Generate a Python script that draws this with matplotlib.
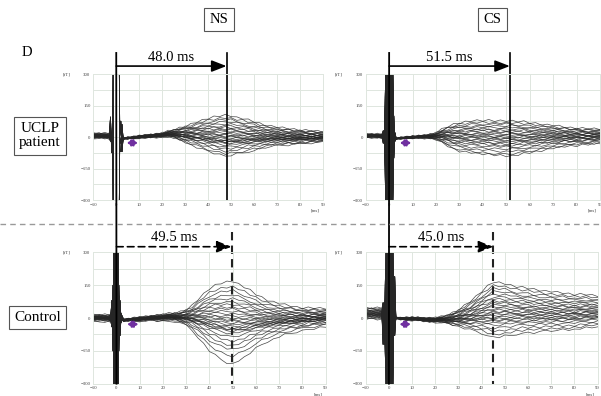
import numpy as np
import matplotlib.pyplot as plt
from matplotlib.lines import Line2D

plt.rcParams['font.family'] = ['Liberation Serif', 'DejaVu Serif']

# column / row labels and peak latencies (ms)
col_titles = ['NS', 'CS']
row_labels = ['UCLP\npatient', 'Control']
latency = [[48.0, 51.5], [49.5, 45.0]]

# sample times (ms) outside the stimulus artifact
t_grid = [-10, -7.5, -5, -3, 3, 5, 7.5, 10, 12.5, 15, 17.5, 20, 22.5, 25, 27.5, 30, 32.5, 35,
          37.5, 40, 42.5, 45, 47.5, 50, 52.5, 55, 57.5, 60, 62.5, 65, 67.5, 70, 72.5, 75,
          77.5, 80, 82.5, 85, 87.5, 90]
# artifact sample times (ms)
art_t = [-2.5, -2, -1.5, -1, -0.5, 0, 0.5, 1, 1.5, 2, 2.5]

# channel-to-channel wiggle (fT), one row per channel group
ripple = [
    [4, -3, 5, -2, 2, -4, 3, -2, 4, -5, 2, -3, 5, -4, 3, -6, 4, -2, 5, -3, 6, -4, 3, -5, 2, -4, 6, -3, 4, -5, 3, -2, 5, -4, 2, -6, 4, -3, 5, -2],
    [-5, 3, -2, 4, -3, 2, -4, 5, -2, 3, -5, 4, -3, 2, -6, 5, -3, 4, -2, 6, -4, 3, -5, 2, -4, 5, -3, 6, -2, 4, -5, 3, -4, 2, -6, 3, -5, 4, -2, 3],
    [2, 6, -4, 1, 0, 3, -2, -4, 5, -1, 3, -5, -2, 6, -3, 1, -5, 4, 2, -4, -1, 5, -3, 6, -2, -5, 1, 4, -6, 2, 5, -3, -1, 6, -4, 1, -2, 5, -3, 0],
    [-3, -1, 4, -5, 1, -2, 5, 1, -4, 2, -6, 0, 4, -3, 5, -2, 1, -6, 3, 2, -5, 4, -1, -3, 6, 1, -4, -2, 5, -3, 0, 6, -2, -5, 3, 4, -1, -4, 2, 6],
    [6, -2, -4, 3, -1, 4, 0, -3, 2, 5, -4, 1, -2, -5, 2, 6, -1, -3, 4, -2, 5, 0, -6, 3, -1, 4, -3, 5, 1, -4, 2, -2, 6, -1, -5, 3, 0, -3, 4, -1],
    [-1, 4, 2, -6, 2, -1, -3, 6, -1, -3, 4, -2, 6, 1, -4, -3, 5, 2, -5, 4, -3, -6, 2, 1, -5, 3, 5, -1, -3, 6, -2, 4, -5, 1, 3, -2, 5, 1, -6, 3],
]

# --- NS, UCLP patient ---
ns_pat_center = [5, 5, 5, 5, -8, -5, -3, 0, 2, 5, 8, 10, 13, 15, 14, 12, 11, 10, 9, 8, 7, 6, 5, 5,
                 4, 4, 3, 3, 2, 2, 2, 2, 1, 1, 1, 0, 0, 0, 0, 0]
ns_pat_shape = [.12, .12, .12, .12, .03, .03, .04, .05, .06, .07, .08, .1, .14, .2, .3, .4, .5, .6,
                .7, .8, .87, .95, 1, .97, .9, .85, .77, .7, .62, .55, .5, .45, .42, .4, .37, .35,
                .32, .3, .27, .25]
ns_pat_peaks = [100, 88, 78, 68, 58, 50, 42, 35, 28, 22, 16, 10, 5, 0, -6, -12, -17, -21, -24,
                -27, -30, -35, -42, -50, -60, -72, -85, -95]
ns_pat_art = [[95, -75, 0, 900, 900, 900, 900, 900, 0, 75, -70],
              [60, -50, 80, -900, -900, -900, -900, -900, -60, -70, 60],
              [30, -30, -60, 900, 900, 900, 900, 900, 80, 40, -40],
              [-20, 20, 0, -900, -900, -900, -900, -900, 0, -30, 30]]

# --- CS, UCLP patient ---
cs_pat_center = [5, 5, 5, 5, -8, -5, -3, -2, 0, 2, 4, 5, 5, 5, 4, 3, 2, 2, 1, 0, -1, -2, -2, -3,
                 -3, -3, -2, -2, -1, 0, 1, 2, 2, 3, 3, 3, 3, 3, 4, 4]
cs_pat_shape = [.1, .1, .1, .1, .03, .03, .04, .05, .06, .08, .12, .2, .38, .55, .7, .8, .85, .9,
                .93, .95, .96, .97, .98, 1, .99, .95, .9, .85, .8, .75, .7, .65, .6, .55, .52, .5,
                .47, .45, .42, .4]
cs_pat_peaks = [82, 72, 64, 56, 48, 41, 35, 29, 23, 17, 12, 7, 2, -3, -8, -13, -18, -24,
                -30, -37, -45, -55, -66, -78, -86]
cs_pat_art = [[30, -20, 300, -600, 600, -600, 600, -600, 400, -100, 20],
              [-30, 20, -300, 600, -600, 600, -600, 600, -400, 100, -20],
              [20, -10, 200, -500, 500, -500, 500, -500, 300, -50, 10],
              [-10, 30, -200, 500, -500, 500, -500, 500, -300, 50, -10]]

# --- NS, control ---
ns_con_center = [0, 0, 0, 0, -10, -8, -6, -5, -3, 0, 2, 3, 4, 5, 4, 3, 2, 0, -2, -5, -7, -10, -13,
                 -15, -15, -15, -13, -12, -11, -10, -9, -8, -6, -5, -4, -3, -1, 0, 1, 2]
ns_con_shape = [.08, .08, .08, .08, .03, .03, .04, .05, .05, .06, .07, .08, .09, .1, .14, .2, .3,
                .45, .6, .75, .84, .92, .97, 1, .93, .85, .75, .65, .57, .5, .45, .4, .36, .33,
                .3, .28, .26, .25, .23, .22]
ns_con_peaks = [185, 160, 140, 120, 105, 90, 78, 65, 55, 45, 35, 25, 15, 8, 0, -8, -15, -22,
                -30, -35, -40, -45, -55, -70, -90, -110, -130, -160, -195]
ns_con_art = [[10, 40, -150, 600, -600, 600, -600, 100, -50, 20, -10],
              [-10, -40, 150, -600, 600, -600, 600, -100, 50, -20, 10],
              [5, 80, -100, 400, -400, 400, -400, 150, -80, 10, 0],
              [0, -30, 100, -400, 400, -400, 400, -150, 80, -10, 0]]

# --- CS, control ---
cs_con_center = [15, 15, 15, 15, 0, -3, -4, -5, -6, -8, -9, -10, -10, -10, -9, -8, -5, -3, 1, 5,
                 8, 10, 11, 12, 12, 12, 12, 12, 12, 12, 12, 12, 12, 12, 12, 12, 13, 15, 15, 15]
cs_con_shape = [.2, .2, .2, .2, .03, .03, .04, .05, .05, .06, .07, .08, .1, .15, .22, .3, .4, .5,
                .62, .75, .88, 1, .98, .95, .9, .85, .82, .8, .77, .75, .72, .7, .68, .67, .65,
                .63, .62, .6, .57, .55]
cs_con_peaks = [155, 140, 125, 112, 100, 88, 78, 68, 58, 50, 42, 35, 28, 20, 14, 8, 2, -5,
                -12, -18, -25, -33, -42, -55, -70, -85, -100]
cs_con_art = [[-120, 70, -200, 600, -600, 600, -600, 600, -600, 190, -80],
              [70, -120, 200, -600, 600, -600, 600, -600, 600, -80, 190],
              [-60, 40, -100, 500, -500, 500, -500, 500, -500, 100, -40],
              [40, -60, 100, -500, 500, -500, 500, -500, 500, -40, 100]]

panels = [[(ns_pat_center, ns_pat_shape, ns_pat_peaks, ns_pat_art),
           (cs_pat_center, cs_pat_shape, cs_pat_peaks, cs_pat_art)],
          [(ns_con_center, ns_con_shape, ns_con_peaks, ns_con_art),
           (cs_con_center, cs_con_shape, cs_con_peaks, cs_con_art)]]

grid_col = '#dfe6df'

fig = plt.figure(figsize=(6.01, 3.96), dpi=100)
rects = [[[0.1552, 0.4949, 0.3822, 0.3182], [0.6085, 0.4949, 0.3899, 0.3182]],
         [[0.1552, 0.0311, 0.3867, 0.3313], [0.6085, 0.0311, 0.3860, 0.3313]]]


def draw_panel(ax, center, shape, peaks, art):
    t = np.array(t_grid, float)
    center = np.array(center, float)
    shape = np.array(shape, float)
    pre = t <= -3
    post = t >= 3
    for i, pk in enumerate(peaks):
        y = center + pk * shape + np.array(ripple[i % len(ripple)], float)
        row = art[i % len(art)]
        tt = np.concatenate([t[pre], art_t, t[post]])
        yy = np.concatenate([y[pre], row, y[post]])
        ax.plot(tt, yy, color='#262626', lw=0.5, alpha=0.85)
    ax.set_xlim(-10, 90)
    ax.set_ylim(-300, 300)
    ax.set_xticks(np.arange(-10, 91, 10))
    ax.set_yticks([-300, -150, 0, 150, 300])
    ax.set_yticks([-225, -75, 75, 225], minor=True)
    ax.grid(True, which='both', color=grid_col, lw=0.7)
    ax.set_axisbelow(True)
    ax.tick_params(which='both', length=0, labelsize=3.5, labelcolor='#444444', pad=2)
    for s in ax.spines.values():
        s.set_color(grid_col)
        s.set_linewidth(0.7)
    ax.text(-0.1, 1.0, '[fT]', transform=ax.transAxes, fontsize=3.5, color='#444444',
            ha='right', va='center')
    ax.text(0.985, -0.08, '[ms]', transform=ax.transAxes, fontsize=3.5, color='#444444',
            ha='right', va='center')
    # purple double arrow
    ax.annotate('', xy=(9.5, -28), xytext=(4.5, -28),
                arrowprops=dict(arrowstyle='<|-|>,head_length=0.55,head_width=0.3',
                                mutation_scale=6, color='#7030a0', lw=1.6,
                                shrinkA=0, shrinkB=0))


def to_fig(ax, x, yfrac):
    disp = ax.get_xaxis_transform().transform((x, yfrac))
    return fig.transFigure.inverted().transform(disp)


axes = [[None, None], [None, None]]
for r in range(2):
    for c in range(2):
        ax = fig.add_axes(rects[r][c])
        draw_panel(ax, *panels[r][c])
        axes[r][c] = ax

# latency markers
for c in range(2):
    top, bot = axes[0][c], axes[1][c]
    # stimulus onset line through both rows
    p0 = to_fig(top, 0, 1.167)
    p1 = to_fig(bot, 0, 0.0)
    fig.add_artist(Line2D([p0[0], p1[0]], [p0[1], p1[1]], color='k', lw=1.3))
    for r, (ax, y_arr, y_txt, y_top, ls) in enumerate(
            [(top, 1.063, 1.135, 1.167, '-'), (bot, 1.044, 1.111, 1.159, (0, (4, 2.5)))]):
        lat = latency[r][c]
        tr = ax.get_xaxis_transform()
        ax.plot([lat, lat], [y_top, 0], transform=tr, color='k' if r == 0 else '#222222',
                lw=1.2 if r == 0 else 1.5, ls=ls, clip_on=False)
        ax.annotate('', xy=(lat, y_arr), xytext=(0, y_arr), xycoords=tr, textcoords=tr,
                    arrowprops=dict(arrowstyle='-|>,head_length=0.9,head_width=0.35',
                                    color='k', lw=1.2, ls=ls, shrinkA=0, shrinkB=0),
                    annotation_clip=False)
        ax.text(lat / 2, y_txt, f'{lat:.1f} ms', transform=tr, ha='center', va='center',
                fontsize=10.5)

# column headers and row labels
box = dict(boxstyle='square,pad=0.35', fc='white', ec='#555555', lw=0.8)
fig.text(0.3644, 0.9508, col_titles[0], ha='center', va='center', fontsize=10.5, bbox=box)
fig.text(0.8195, 0.9508, col_titles[1], ha='center', va='center', fontsize=10.5, bbox=box)
fig.text(0.0449, 0.8662, 'D', ha='center', va='center', fontsize=10.5)
fig.text(0.0661, 0.6566, row_labels[0], ha='center', va='center', fontsize=11,
         linespacing=1.1, bbox=box)
fig.text(0.0624, 0.1982, row_labels[1], ha='center', va='center', fontsize=11, bbox=box)

# separator between rows
fig.add_artist(Line2D([0, 1], [0.4331, 0.4331], color='#999999', lw=1.0, ls=(0, (4, 3))))

fig.savefig('out.png', dpi=100)
